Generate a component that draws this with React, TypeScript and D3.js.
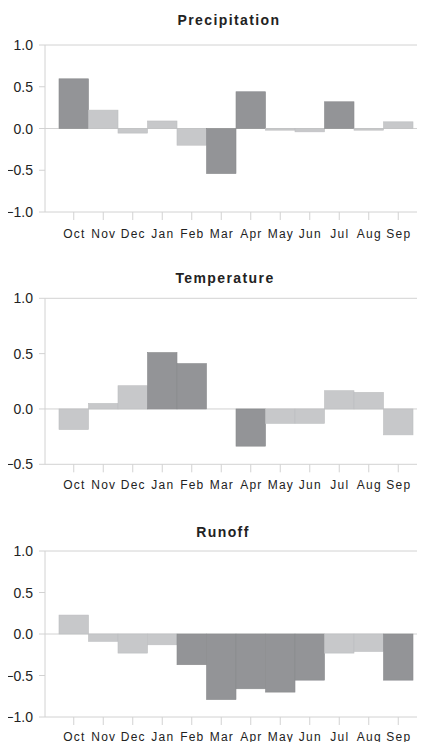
import * as d3 from 'd3'

const months = ['Oct', 'Nov', 'Dec', 'Jan', 'Feb', 'Mar', 'Apr', 'May', 'Jun', 'Jul', 'Aug', 'Sep']

const precipitation = [0.595, 0.22, -0.055, 0.09, -0.2, -0.54, 0.44, -0.02, -0.04, 0.32, -0.02, 0.08]
const precipSignificant = [true, false, false, false, false, true, true, false, false, true, false, false]

const temperature = [-0.186, 0.05, 0.21, 0.51, 0.41, 0, -0.336, -0.13, -0.13, 0.165, 0.15, -0.234]
const tempSignificant = [false, false, false, true, true, false, true, false, false, false, false, false]

const runoff = [0.228, -0.088, -0.23, -0.13, -0.37, -0.79, -0.66, -0.7, -0.556, -0.23, -0.21, -0.556]
const runoffSignificant = [false, false, false, false, true, true, true, true, true, false, false, true]

const ticksFull = [-1, -0.5, 0, 0.5, 1]
const ticksShort = [-0.5, 0, 0.5, 1]

const panels = [
  { title: 'Precipitation', values: precipitation, sig: precipSignificant, domain: [-1, 1], ticks: ticksFull },
  { title: 'Temperature', values: temperature, sig: tempSignificant, domain: [-0.5, 1], ticks: ticksShort },
  { title: 'Runoff', values: runoff, sig: runoffSignificant, domain: [-1, 1], ticks: ticksFull },
]

// layout for each panel (pixels)
const layout = [
  { top: 45, bottom: 212, titleX: 229, titleY: 25, labelY: 238 },
  { top: 298.3, bottom: 464.3, titleX: 225, titleY: 283.3, labelY: 489 },
  { top: 551, bottom: 717, titleX: 223, titleY: 536.7, labelY: 741 },
]

const W = 425
const H = 742
const axisX = 45
const DARK = '#939497'
const LIGHT = '#c7c8ca'
const LINE = '#d2d2d2'
const FONT = '"Liberation Sans", Arial, sans-serif'

const x = d3.scaleBand<string>().domain(months).range([59, 413]).padding(0)

function Panel({ idx }: { idx: number }) {
  const p = panels[idx]
  const l = layout[idx]
  const y = d3.scaleLinear().domain(p.domain).range([l.bottom, l.top])
  const y0 = y(0)
  return (
    <g>
      <text x={l.titleX} y={l.titleY} textAnchor="middle" fontFamily={FONT} fontSize={14}
        fontWeight="bold" letterSpacing={1.4} fill="#222">{p.title}</text>

      {/* horizontal lines at top, zero, bottom */}
      {[p.domain[1], 0, p.domain[0]].map((v, i) => (
        <line key={i} x1={axisX} x2={W} y1={y(v)} y2={y(v)} stroke={LINE} strokeWidth={1} />
      ))}
      <line x1={axisX} x2={axisX} y1={l.top} y2={l.bottom} stroke={LINE} strokeWidth={1} />

      {/* y ticks */}
      {p.ticks.map(t => (
        <g key={t}>
          <line x1={axisX - 6} x2={axisX} y1={y(t)} y2={y(t)} stroke={LINE} strokeWidth={1} />
          <text x={33} y={y(t)} dy="0.36em" textAnchor="end" fontFamily={FONT} fontSize={14} fill="#222">
            {d3.format('.1f')(t)}
          </text>
        </g>
      ))}

      {/* bars */}
      {p.values.map((v, i) => {
        const yv = y(v)
        const h = Math.abs(yv - y0)
        if (h < 0.01) return null
        return (
          <rect key={months[i]} x={x(months[i])} y={Math.min(yv, y0)} width={x.bandwidth()} height={h}
            fill={p.sig[i] ? DARK : LIGHT} stroke={p.sig[i] ? '#898a8d' : '#bdbec0'} strokeWidth={0.6} />
        )
      })}

      {/* x ticks and labels */}
      {months.map(m => {
        const cx = (x(m) ?? 0) + x.bandwidth() / 2
        return (
          <g key={m}>
            <line x1={cx} x2={cx} y1={l.bottom} y2={l.bottom + 8} stroke={LINE} strokeWidth={1} />
            <text x={cx + 0.6} y={l.labelY} textAnchor="middle" fontFamily={FONT} fontSize={12}
              letterSpacing={1.2} fill="#222">{m}</text>
          </g>
        )
      })}
    </g>
  )
}

export default function App() {
  return (
    <svg width={W} height={H} viewBox={`0 0 ${W} ${H}`}
      style={{ display: 'block', marginLeft: -8, marginTop: -8, background: '#fff' }}>
      {panels.map((_, i) => <Panel key={i} idx={i} />)}
    </svg>
  )
}
